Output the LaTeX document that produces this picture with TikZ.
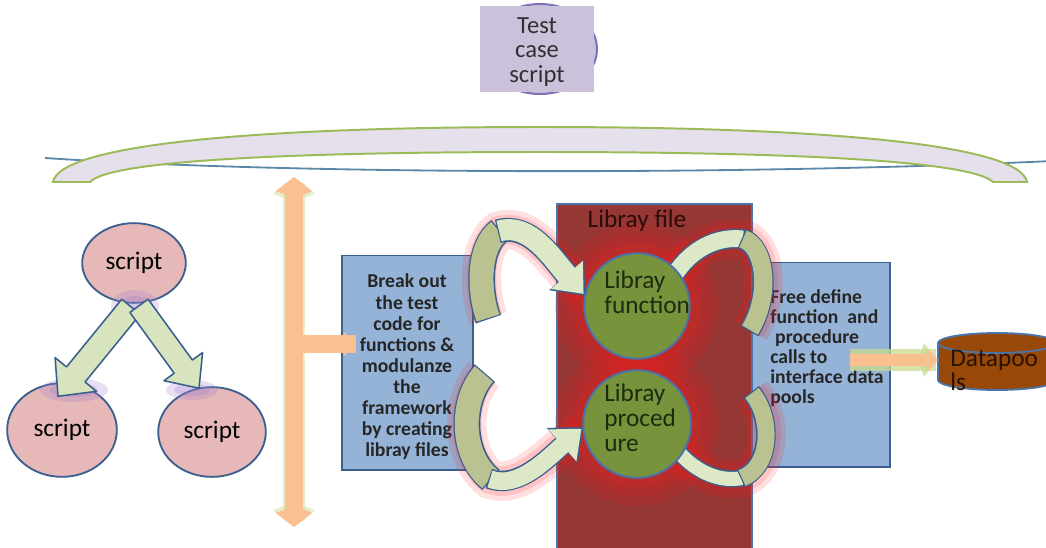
\documentclass[tikz,border=0pt]{standalone}
\usepackage{fontspec}
\setmainfont{Carlito}
\usetikzlibrary{arrows.meta,calc,positioning,shapes.geometric}

\definecolor{barfill}{HTML}{E5E0EC}
\definecolor{barline}{HTML}{9BBB59}
\definecolor{arcline}{HTML}{5B87A8}
\definecolor{tcfill}{HTML}{CCC1DA}
\definecolor{tcline}{HTML}{7E70B8}
\definecolor{scrfill}{HTML}{E6B9B8}
\definecolor{darkblue}{HTML}{3A5F8F}
\definecolor{grarrow}{HTML}{D7E4BD}
\definecolor{glowpurple}{HTML}{A07CD0}
\definecolor{orng}{HTML}{FAC090}
\definecolor{orngglow}{HTML}{DCE6B4}
\definecolor{boxfill}{HTML}{95B3D7}
\definecolor{libfill}{HTML}{953735}
\definecolor{glowred}{HTML}{FF1A1A}
\definecolor{circfill}{HTML}{77933C}
\definecolor{circline}{HTML}{4A74AA}
\definecolor{ribdk}{HTML}{B9C290}
\definecolor{riblt}{HTML}{DDE8C6}
\definecolor{dpfill}{HTML}{984807}
\definecolor{dpglow}{HTML}{CADC8E}
\definecolor{txtdark}{HTML}{303030}
\definecolor{circtxt}{HTML}{1E2A10}
\definecolor{libtxt}{HTML}{2D0B0B}
\definecolor{dptxt}{HTML}{2A1200}

\pgfdeclarelayer{back}
\pgfdeclarelayer{glow}
\pgfsetlayers{back,glow,main}

% block arrow: style, from, to, half shaft, half head, head length
\newcommand\fatarrow[6]{%
  \coordinate (fabase) at ($(#3)!#6!(#2)$);
  \draw[#1] ($(#2)!#4!90:(#3)$) -- ($(fabase)!#4!90:(#3)$) -- ($(fabase)!#5!90:(#3)$) -- (#3)
    -- ($(fabase)!#5!-90:(#3)$) -- ($(fabase)!#4!-90:(#3)$) -- ($(#2)!#4!-90:(#3)$) -- cycle;}

\begin{document}
\begin{tikzpicture}[x=0.025cm,y=-0.025cm,
  every node/.style={inner sep=0pt},
  bar/.style={fill=barfill,draw=barline,line width=1.4pt},
  tcbox/.style={rectangle,fill=tcfill,minimum width=80.8pt,minimum height=61pt},
  tctxt/.style={align=center,text=txtdark,font=\fontsize{17.5}{17.7}\selectfont},
  scr/.style={ellipse,fill=scrfill,draw=darkblue,line width=1.3pt,font=\fontsize{18}{20}\selectfont},
  garrow/.style={fill=grarrow,draw=darkblue,line width=1.1pt,line join=round},
  pglow/.style={fill=glowpurple,opacity=0.25},
  oarrow/.style={draw=orng,line width=13.5pt},
  oglow/.style={draw=orngglow,line width=16pt,opacity=0.7},
  bbox/.style={rectangle,fill=boxfill,draw=darkblue,line width=1.2pt},
  btxt/.style={text=black!85,font=\fontsize{14}{15}\selectfont\bfseries},
  libbox/.style={rectangle,fill=libfill,draw=circline,line width=1.2pt},
  circ/.style={circle,fill=circfill,draw=circline,line width=1.4pt},
  ctxt/.style={anchor=west,align=left,text=circtxt,font=\fontsize{18}{17.7}\selectfont},
  rglow/.style={glowred,opacity=0.14},
  ribedge/.style={draw=darkblue,line width=#1,shorten <=-0.9pt,shorten >=-0.9pt},
  ribdark/.style={draw=ribdk,line width=#1},
  riblight/.style={draw=riblt,line width=#1},
  bighead/.style={-{Triangle[width=32pt,length=20pt]}},
  smallhead/.style={-{Triangle[width=29pt,length=18pt]},shorten >=0.9pt},
]
\useasboundingbox (0,0) rectangle (1046,547);
\clip (0,0) rectangle (1046,547);

% banner
\draw[arcline,line width=1.3pt] (45,158) .. controls (300,175) and (750,175) .. (1052,161);
\draw[bar] (53,182) .. controls (60,145) and (250,127) .. (540,127) .. controls (830,127) and (1020,145) .. (1027,182)
  -- (993,182) .. controls (970,160) and (780,152) .. (540,152) .. controls (300,152) and (110,160) .. (90,182) -- cycle;

% test case script
\draw[fill=tcfill,draw=tcline,line width=1.4pt] (540,49) ellipse [x radius=57, y radius=45];
\node[tcbox] (tc) at (537,49) {};
\node[tctxt] (tct) at (537,52) {Test\\case\\script};

% boxes
\begin{pgfonlayer}{back}
\node[bbox,minimum width=92.8pt,minimum height=152.4pt] (lb) at (407.5,362.5) {};
\node[btxt,align=center] (lbt) at (407,367)
  {Break out\\the test\\code for\\functions \&\\modulanze\\the\\framework\\by creating\\libray files};
\node[bbox,minimum width=97.8pt,minimum height=145.3pt] (rb) at (821,364.5) {};
\node[btxt,anchor=west,align=left,font=\fontsize{14}{14.2}\selectfont\bfseries] (rbt) at (770,348)
  {Free define\\function\ \ and\\\hspace{0.25em}procedure\\calls to\\interface data\\pools};
\node[libbox,minimum width=138.2pt,minimum height=255pt] (lib) at (654.5,383) {};
\end{pgfonlayer}

% scripts
\node[scr,minimum width=73.7pt,minimum height=56.7pt] (s1) at (134,263) {script};
\node[scr,minimum width=78pt,minimum height=66.6pt] (s2) at (62,430) {script};
\node[scr,minimum width=76.5pt,minimum height=63.8pt] (s3) at (212,432) {script};
\fill[pglow] (135,306) ellipse [x radius=24, y radius=16];
\fill[pglow] (135,306) ellipse [x radius=16, y radius=10];
\fill[pglow] (74,390) ellipse [x radius=34, y radius=12];
\fill[pglow] (74,390) ellipse [x radius=24, y radius=7];
\fill[pglow] (192,390) ellipse [x radius=26, y radius=10];
\fill[pglow] (192,390) ellipse [x radius=18, y radius=6];
\coordinate (a1) at ($(s1.south)+(-3,3)$);
\coordinate (a1t) at ($(s2.north)+(-4,14)$);
\coordinate (a2) at ($(s1.south)+(5,2)$);
\coordinate (a2t) at ($(s3.north)+(-13,2)$);
\fatarrow{garrow}{a1}{a1t}{8.5pt}{19pt}{20pt}
\fatarrow{garrow}{a2}{a2t}{8pt}{17pt}{19pt}

% orange connector
\coordinate (vt) at (294,177);
\coordinate (vb) at (294,527);
\coordinate (vm) at (294,344);
\draw[oglow,{Kite[width=30pt,length=18pt,inset=6pt]}-{Kite[width=30pt,length=18pt,inset=6pt]}] (vt) -- (vb);
\draw[oarrow,{Kite[width=26pt,length=15pt,inset=5pt]}-{Kite[width=26pt,length=15pt,inset=5pt]}] (vt) -- (vb);
\draw[oarrow,-{Kite[width=17pt,length=11pt,inset=3pt]}] (vm) -- ($(vm -| lb.west)+(14,0)$);

% library file
\node[font=\fontsize{18}{20}\selectfont,text=libtxt] (libt) at (637,221) {Libray file};
\node[circ,minimum size=75pt] (lf) at (637,306) {};
\node[circ,minimum size=76.5pt] (lp) at (637,424) {};
\node[ctxt] (lft) at (604,292.5) {Libray\\function};
\node[ctxt] (lpt) at (604,418) {Libray\\proced\\ure};

\coordinate (a1s) at (488,318);
\coordinate (a1m) at (499,231);
\coordinate (a2s) at (484,374);
\coordinate (a2m) at (490,479);
\coordinate (a3s) at ($(lf.center)!0.92!(lf.40)$);
\coordinate (a3m) at (743,239);
\coordinate (a3e) at (750,330);
\coordinate (a4s) at ($(lp.center)!0.92!(lp.-34)$);
\coordinate (a4m) at (742,478);
\coordinate (a4e) at (752,393);

\begin{pgfonlayer}{glow}
\foreach \r in {82,72,63} {
  \fill[rglow] (lf.center) circle (\r);
  \fill[rglow] (lp.center) circle (\r);
}
\foreach \w in {28pt,21pt} {
  \draw[rglow,line width=\w] (a1s) .. controls (478,290) and (478,246) .. (a1m) .. controls (530,222) and (552,258) .. (lf.168);
  \draw[rglow,line width=\w] (a2s) .. controls (460,400) and (460,455) .. (a2m) .. controls (518,490) and (548,458) .. (lp.184);
  \draw[rglow,line width=\w] (a3s) .. controls (692,248) and (718,236) .. (a3m) .. controls (766,246) and (771,296) .. (a3e);
  \draw[rglow,line width=\w] (a4s) .. controls (698,474) and (722,482) .. (a4m) .. controls (770,468) and (774,420) .. (a4e);
}
% ribbons into the circles
\draw[ribedge=19pt] (a1s) .. controls (478,290) and (478,246) .. (a1m);
\draw[ribdark=17pt] (a1s) .. controls (478,290) and (478,246) .. (a1m);
\draw[ribedge=17pt,bighead] (a1m) .. controls (530,222) and (552,258) .. (lf.168);
\draw[riblight=15pt,smallhead] (a1m) .. controls (530,222) and (552,258) .. (lf.168);
\draw[ribedge=19pt] (a2s) .. controls (460,400) and (460,455) .. (a2m);
\draw[ribdark=17pt] (a2s) .. controls (460,400) and (460,455) .. (a2m);
\draw[ribedge=14.5pt,bighead] (a2m) .. controls (518,490) and (548,458) .. (lp.184);
\draw[riblight=12.5pt,smallhead] (a2m) .. controls (518,490) and (548,458) .. (lp.184);
% ribbons out to the calls
\draw[ribedge=14pt] (a3s) .. controls (692,248) and (718,236) .. (a3m);
\draw[riblight=12pt] (a3s) .. controls (692,248) and (718,236) .. (a3m);
\draw[ribedge=15pt] (a3m) .. controls (766,246) and (771,296) .. (a3e);
\draw[ribdark=13pt] (a3m) .. controls (766,246) and (771,296) .. (a3e);
\draw[ribedge=12pt] (a4s) .. controls (698,474) and (722,482) .. (a4m);
\draw[riblight=10pt] (a4s) .. controls (698,474) and (722,482) .. (a4m);
\draw[ribedge=14pt] (a4m) .. controls (770,468) and (774,420) .. (a4e);
\draw[ribdark=12pt] (a4m) .. controls (770,468) and (774,420) .. (a4e);
\end{pgfonlayer}

% datapools
\node[minimum width=83.6pt,minimum height=40.4pt] (dp) at (997,361.5) {};
\filldraw[fill=dpfill,draw=circline,line width=1.3pt] (997,380) ellipse [x radius=59, y radius=10];
\fill[dpfill] (938,343) rectangle (1056,380);
\draw[circline,line width=1.3pt] (938,343) -- (938,380) (1056,343) -- (1056,380);
\filldraw[fill=dpfill,draw=circline,line width=1.3pt] (997,343) ellipse [x radius=59, y radius=10];
\node[ctxt,text=dptxt] (dpt) at (950,370.5) {Datapoo\\ls};
\coordinate (da) at (850,360);
\draw[draw=dpglow,line width=15pt,opacity=0.75,-{Kite[width=24pt,length=14pt,inset=4pt]}] (da) -- (dp.west |- da);
\draw[draw=orng,line width=8.5pt,-{Kite[width=15pt,length=10pt,inset=3pt]}] (da) -- (dp.west |- da);
\end{tikzpicture}
\end{document}
